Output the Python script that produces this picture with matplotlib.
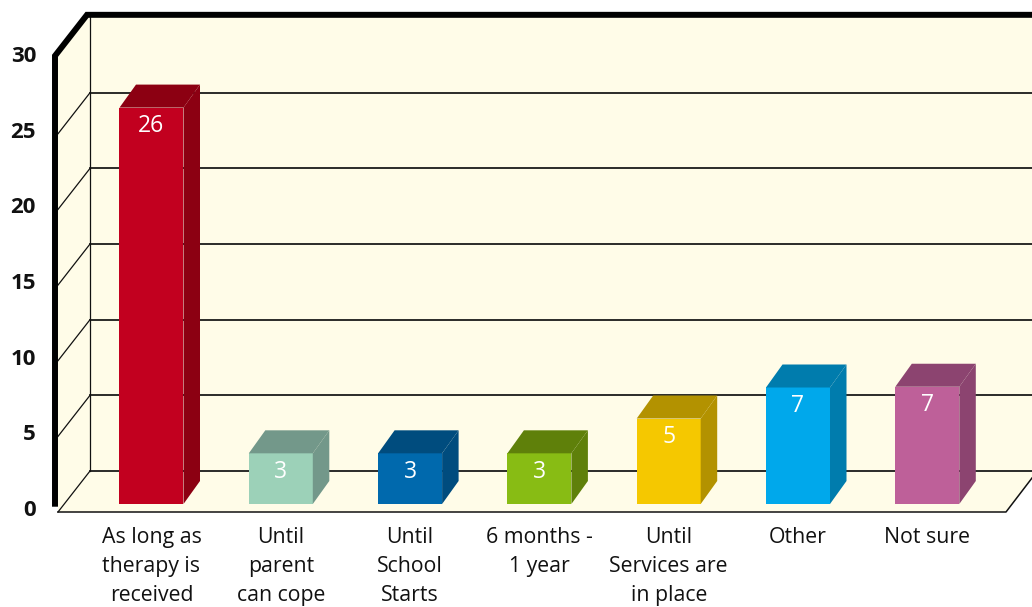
import matplotlib
matplotlib.use("Agg")
import matplotlib.pyplot as plt
from matplotlib.transforms import ScaledTranslation

categories = ["As long as\ntherapy is\nreceived", "Until\nparent\ncan cope", "Until\nSchool\nStarts",
              "6 months -\n1 year", "Until\nServices are\nin place", "Other", "Not sure"]
values = [26.2, 3.35, 3.35, 3.35, 5.65, 7.7, 7.75]
value_labels = ["26", "3", "3", "3", "5", "7", "7"]
front_colors = ["#C2001F", "#9CD1B8", "#0069AD", "#88BC14", "#F5C800", "#00A8EB", "#BE6099"]
side_colors = ["#8C0012", "#73988A", "#004C7E", "#5F800A", "#B39200", "#007CAD", "#8C4470"]
y_ticks = [0, 5, 10, 15, 20, 25, 30]

W, H = 1032, 607
PX_X = 129.3          # pixels per category
PX_Y = 15.13          # pixels per value unit
X0_PX, Y0_PX = 151.5, 512
WALL_LEFT = (58 - X0_PX) / PX_X
WALL_DX = 32 / PX_X
WALL_DY = 41 / PX_Y
BAR_W = 64 / PX_X
BAR_DX = 16.5 / PX_X
BAR_DY = 23 / PX_Y
BAR_BASE = 8 / PX_Y
Y_TOP = 30.15
X_END = (1006 - X0_PX) / PX_X

plt.rcParams["font.family"] = ["Open Sans", "DejaVu Sans"]
fig = plt.figure(figsize=(W / 100, H / 100), dpi=100, facecolor="white")
ax = fig.add_axes([0, 0, 1, 1])
xlim = (-X0_PX / PX_X, (W - X0_PX) / PX_X)
ax.set_xlim(*xlim)
ax.set_ylim((Y0_PX - H) / PX_Y, Y0_PX / PX_Y)
ax.spines["bottom"].set_position(("data", 0))
for s in ax.spines.values():
    s.set_visible(False)
ax.patch.set_visible(False)

cream = "#FFFCE8"
bl, br = WALL_LEFT + WALL_DX, xlim[1]
# walls and floor
ax.fill([WALL_LEFT, WALL_LEFT, bl, br, br, X_END],
        [0, Y_TOP, Y_TOP + WALL_DY, Y_TOP + WALL_DY, WALL_DY * 34 / 41, 0],
        color=cream, lw=0, zorder=0)

# gridlines on the back and left walls
for v in y_ticks[:-1]:
    ax.plot([bl, br], [v + WALL_DY, v + WALL_DY], color="#111111", lw=1.25, zorder=1)
    ax.plot([WALL_LEFT, bl], [v, v + WALL_DY], color="#111111", lw=0.9, zorder=1)
ax.plot([bl, bl], [WALL_DY, Y_TOP + WALL_DY], color="#111111", lw=0.9, zorder=1)
ax.plot([WALL_LEFT, X_END, br], [0, 0, WALL_DY * 34 / 41], color="#111111", lw=1.1, zorder=1)

# heavy frame
fx = WALL_LEFT - 3 / PX_X
ax.plot([fx, fx, fx + WALL_DX, br], [0.35, Y_TOP, Y_TOP + WALL_DY, Y_TOP + WALL_DY],
        color="black", lw=4.3, solid_joinstyle="miter", solid_capstyle="butt", zorder=3)

# bars
xs = list(range(len(values)))
ax.bar(xs, values, width=BAR_W, bottom=BAR_BASE, color=front_colors, lw=0, zorder=4)
for x, v, c in zip(xs, values, side_colors):
    l, r = x - BAR_W / 2, x + BAR_W / 2
    t = BAR_BASE + v
    ax.fill([l, r, r + BAR_DX, l + BAR_DX], [t, t, t + BAR_DY, t + BAR_DY], color=c, lw=0, zorder=4)
    ax.fill([r, r + BAR_DX, r + BAR_DX, r], [BAR_BASE, BAR_BASE + BAR_DY, t + BAR_DY, t], color=c, lw=0, zorder=4)
for x, v, s in zip(xs, values, value_labels):
    ax.annotate(s, (x, BAR_BASE + v), xytext=(0, -13.2), textcoords="offset points",
                ha="center", va="center", color="white", fontsize=16.5, zorder=5)

# axes labels
ax.set_xticks(xs)
ax.set_xticklabels(categories, fontsize=15.3, linespacing=1.5, color="#111111")
ax.set_yticks(y_ticks)
ax.set_yticklabels([str(v) for v in y_ticks], fontsize=16, fontweight="bold", color="#111111")
ax.tick_params(axis="both", length=0)
ax.tick_params(axis="x", pad=11)
ax.tick_params(axis="y", direction="in", pad=0)
for lab in ax.get_yticklabels():
    lab.set_ha("right")
    lab.set_transform(lab.get_transform() + ScaledTranslation(36 / 100, 4 / 100, fig.dpi_scale_trans))

fig.savefig("out.png", dpi=100)
